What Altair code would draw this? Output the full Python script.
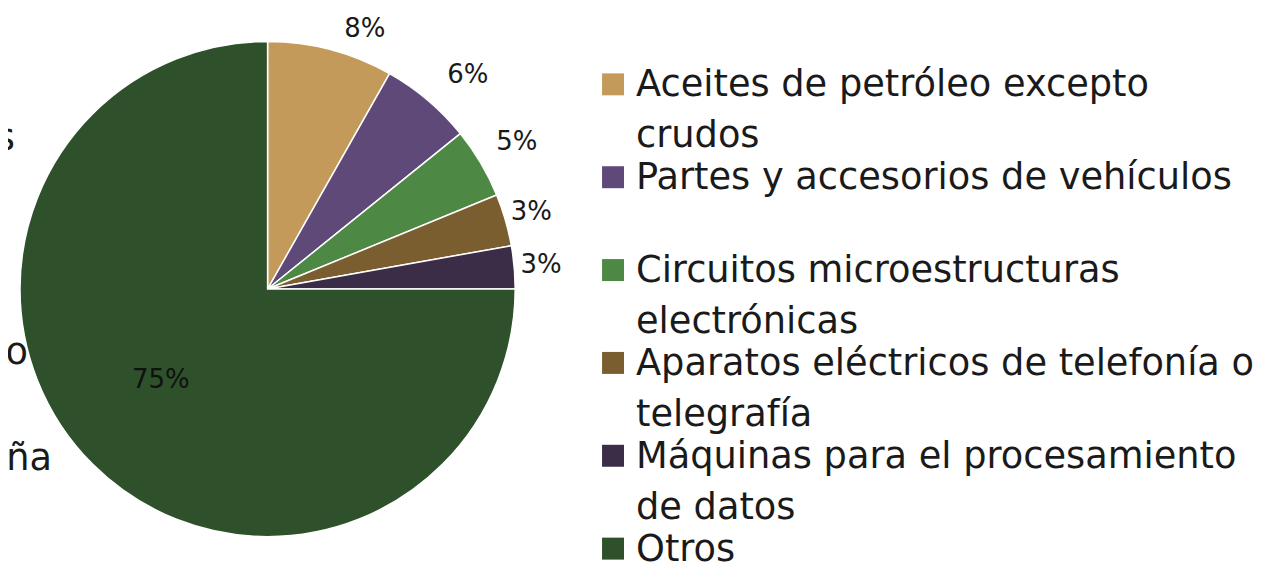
import altair as alt
import pandas as pd

categories = [
    "Aceites de petróleo excepto crudos",
    "Partes y accesorios de vehículos",
    "Circuitos microestructuras electrónicas",
    "Aparatos eléctricos de telefonía o telegrafía",
    "Máquinas para el procesamiento de datos",
    "Otros",
]
values = [8.2, 6.0, 4.6, 3.4, 2.8, 75.0]
labels = ["8%", "6%", "5%", "3%", "3%", "75%"]
legend_line1 = [
    "Aceites de petróleo excepto",
    "Partes y accesorios de vehículos",
    "Circuitos microestructuras",
    "Aparatos eléctricos de telefonía o",
    "Máquinas para el procesamiento",
    "Otros",
]
legend_line2 = ["crudos", "", "electrónicas", "telegrafía", "de datos", ""]
colors = ["#C39A5A", "#5E4978", "#4E8845", "#7B5E2F", "#3B2C47", "#2E502B"]
# fragments of text cut off at the left edge of the reference picture
edge_fragments = ["s", "o", "ña"]

FONT = "DejaVu Sans"
TEXT = "#1a1a1a"

df = pd.DataFrame({
    "cat": categories,
    "value": values,
    "label": labels,
    "order": list(range(len(categories))),
    "l1": legend_line1,
    "l2": legend_line2,
})

color_scale = alt.Scale(domain=categories, range=colors)

arcs = alt.Chart(df).mark_arc(radius=248, stroke="white", strokeWidth=1.5).encode(
    theta=alt.Theta("value:Q", stack=True),
    order=alt.Order("order:Q"),
    x=alt.value(260),
    color=alt.Color("cat:N", scale=color_scale, legend=None),
)

lab = alt.Chart(df).transform_window(
    cum="sum(value)", sort=[alt.SortField("order")], frame=[None, 0]
).transform_calculate(mid="datum.cum - datum.value / 2")

theta_mid = alt.Theta("mid:Q", stack=False, scale=alt.Scale(domain=[0, 100], range=[0, 6.283185307179586]))


def label_layer(cond, radius, dx=0, dy=0, color=TEXT):
    return lab.transform_filter(cond).mark_text(
        radius=radius, font=FONT, fontSize=26, color=color, dx=dx, dy=dy
    ).encode(theta=theta_mid, x=alt.value(260), text="label:N")


l8 = label_layer("datum.order == 0", 272, dx=28, dy=3)
l6 = label_layer("datum.order == 1", 290, dx=13, dy=7)
l5 = label_layer("datum.order == 2", 290)
l3 = label_layer("datum.order == 3 || datum.order == 4", 275)
l75 = label_layer("datum.order == 5", 140, dx=-8, dy=-8, color="#111111")


def frag(i, x, y):
    return alt.Chart(pd.DataFrame({"t": [edge_fragments[i]]})).mark_text(
        align="right", baseline="alphabetic", font=FONT, fontSize=36.8, color=TEXT, clip=True
    ).encode(text="t:N", x=alt.value(x), y=alt.value(y))


frags = [frag(0, 7, 142), frag(1, 20, 356), frag(2, 44, 462)]

pie = alt.layer(arcs, l8, l6, l5, l3, l75, *frags).properties(width=595, height=562)

ybase = alt.Chart(df).encode(
    y=alt.Y("cat:N", sort=categories, axis=None,
            scale=alt.Scale(type="point", range=[76, 541], padding=0))
)
sq = ybase.mark_square(size=484, opacity=1).encode(
    x=alt.value(10),
    color=alt.Color("cat:N", scale=color_scale, legend=None),
)
t1 = ybase.mark_text(align="left", baseline="alphabetic", dy=12, font=FONT, fontSize=36.8, color=TEXT).encode(
    x=alt.value(33), text="l1:N"
)
t2 = ybase.mark_text(align="left", baseline="alphabetic", dy=63, font=FONT, fontSize=36.8, color=TEXT).encode(
    x=alt.value(33), text="l2:N"
)
legend = alt.layer(sq, t1, t2).properties(width=630, height=562)

chart = alt.hconcat(pie, legend, spacing=0).properties(padding=0).configure_view(stroke=None)

chart.save("out.html", embed_options={"renderer": "svg", "actions": False})
